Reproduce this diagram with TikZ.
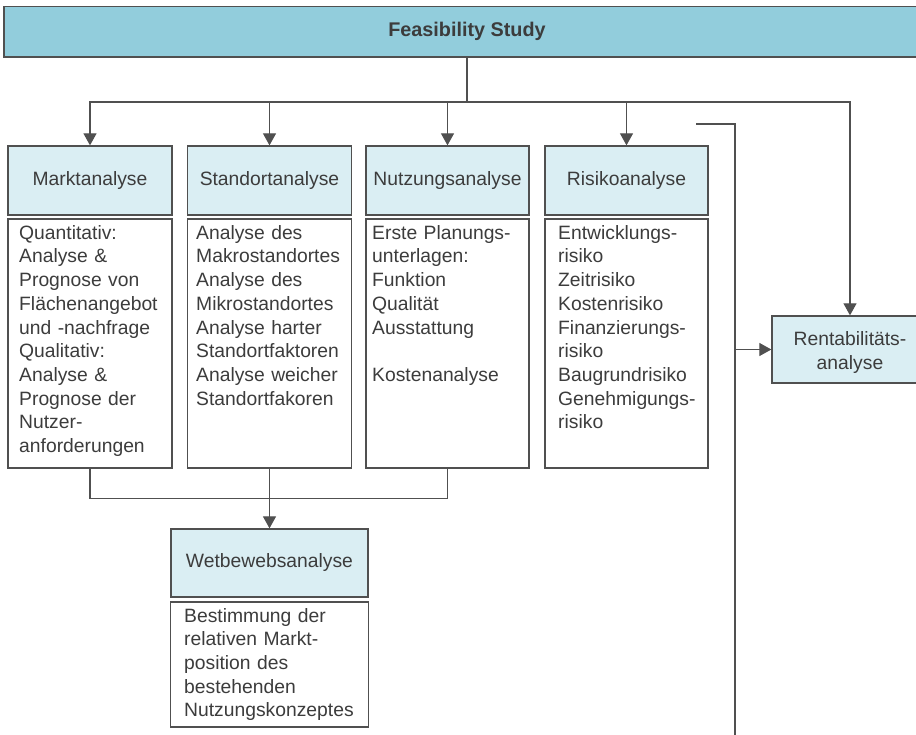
\documentclass[tikz,border=0pt]{standalone}
\usepackage{fontspec}
\setmainfont{Liberation Sans}
\usetikzlibrary{arrows.meta}
\definecolor{linec}{HTML}{505050}
\definecolor{txtc}{HTML}{3C3C3C}
\definecolor{hdrfill}{HTML}{DAEEF3}
\definecolor{topfill}{HTML}{92CDDC}
\begin{document}
\begin{tikzpicture}[x=1pt,y=-1pt,
  txtfont/.style={font=\fontsize{19.3}{23.7}\selectfont, text=txtc},
  hdr/.style={draw=linec, line width=1.3pt, fill=hdrfill, inner sep=0pt, txtfont},
  cbox/.style={draw=linec, line width=1.3pt, fill=white, inner sep=0pt},
  ctext/.style={anchor=base west, inner sep=0pt, align=left, text width=165pt, txtfont},
  conn/.style={draw=linec, line width=1.1pt},
  arr/.style={conn, -{Triangle[length=12pt,width=13pt]}}]
\useasboundingbox (0,0) rectangle (916,735);
\fill[white] (0,0) rectangle (916,735);
\clip (0,0) rectangle (916,735);

% title
\node[draw=linec, line width=1.3pt, fill=topfill, minimum width=926pt, minimum height=50.5pt,
      inner sep=0pt, font=\fontsize{19.8}{24}\selectfont\bfseries, text=txtc] (title) at (467,31.75) {Feasibility Study};

% headers
\node[hdr, minimum width=164pt, minimum height=69pt] (mkh) at (90,180.5) {Marktanalyse};
\node[hdr, minimum width=164pt, minimum height=69pt] (sth) at (269.5,180.5) {Standortanalyse};
\node[hdr, minimum width=163pt, minimum height=69pt] (nzh) at (447.5,180.5) {Nutzungsanalyse};
\node[hdr, minimum width=163pt, minimum height=69pt] (rkh) at (626.5,180.5) {Risikoanalyse};
\node[hdr, minimum width=197pt, minimum height=68pt] (wth) at (269.5,563) {Wetbewebsanalyse};
\node[hdr, minimum width=156pt, minimum height=67pt] (renta) at (850,349.5) {};
\node[txtfont, align=center, inner sep=0pt] (rentat) at (850,352.5) {Rentabilitäts-\\analyse};

% content boxes
\node[cbox, minimum width=164pt, minimum height=249pt] (mkc) at (90,343.5) {};
\node[cbox, minimum width=164pt, minimum height=249pt] (stc) at (269.5,343.5) {};
\node[cbox, minimum width=163pt, minimum height=249pt] (nzc) at (447.5,343.5) {};
\node[cbox, minimum width=163pt, minimum height=249pt] (rkc) at (626.5,343.5) {};
\node[cbox, minimum width=198pt, minimum height=125pt] (wtc) at (269.5,664.5) {};

% content texts
\node[ctext] (mkt) at (19,239.3) {Quantitativ:\\Analyse \&\\Prognose von\\Flächenangebot\\und -nachfrage\\Qualitativ:\\Analyse \&\\Prognose der\\Nutzer-\\anforderungen};
\node[ctext] (stt) at (196,239.3) {Analyse des\\Makrostandortes\\Analyse des\\Mikrostandortes\\Analyse harter\\Standortfaktoren\\Analyse weicher\\Standortfakoren};
\node[ctext] (nzt) at (372,239.3) {Erste Planungs-\\unterlagen:\\Funktion\\Qualität\\Ausstattung\\\mbox{}\\Kostenanalyse};
\node[ctext] (rkt) at (558,239.3) {Entwicklungs-\\risiko\\Zeitrisiko\\Kostenrisiko\\Finanzierungs-\\risiko\\Baugrundrisiko\\Genehmigungs-\\risiko};
\node[ctext] (wtt) at (184,622) {Bestimmung der\\relativen Markt-\\position des\\bestehenden\\Nutzungskonzeptes};

% connectors from title
\coordinate (hub) at (467,102);
\draw[conn] (title.south) -- (hub);
\draw[arr] (hub) -| (mkh);
\draw[arr] (hub) -| (sth);
\draw[arr] (hub) -| (nzh);
\draw[arr] (hub) -| (rkh);
\draw[arr] (hub) -| (renta);

% right-hand line
\coordinate (r1) at (696,124);
\coordinate (r2) at (735,124);
\coordinate (r3) at (735,745);
\coordinate (r4) at (735,349.5);
\draw[conn] (r1) -- (r2) -- (r3);
\draw[arr] (r4) -- (renta);

% bottom join
\draw[conn] (mkc.south) -- ++(0,30) -| (nzc.south);
\draw[arr] (stc.south) -- (wth.north);
\end{tikzpicture}
\end{document}
